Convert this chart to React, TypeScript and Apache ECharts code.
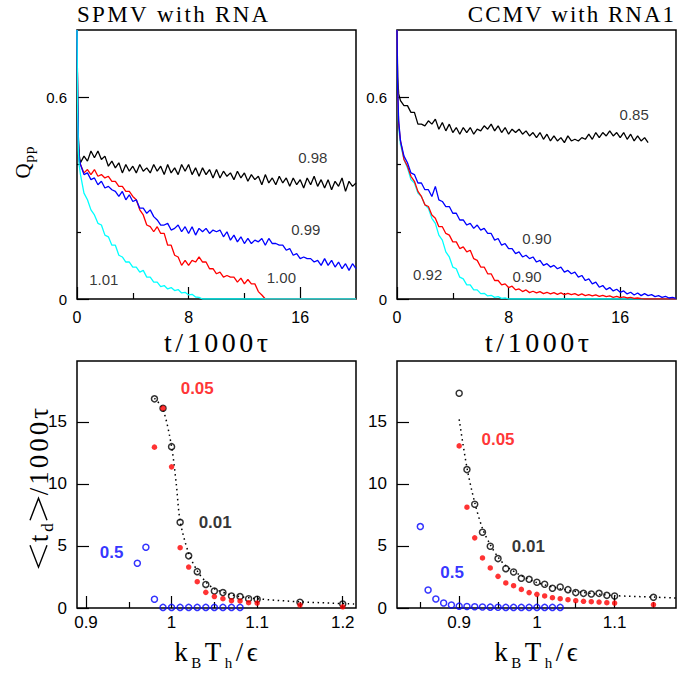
import React, { useEffect, useRef } from "react";
import * as echarts from "echarts";

const FONT_SANS = "'Liberation Sans', Arial, sans-serif";
const FONT_SERIF = "'Liberation Serif', 'DejaVu Serif', serif";

// ---------- top panels: Q_pp vs t/1000tau ----------
const T_STEP = 0.25; // body samples start at t = 0.25
const HEAD_T_SPMV = [0, 0.05, 0.1, 0.15];
const HEAD_T_CCMV = [0, 0.05, 0.12];

// SPMV with RNA
const TL_BLACK_HEAD = [0.8, 0.6, 0.48, 0.43];
const TL_BLACK = [
  0.405, 0.425, 0.41, 0.44, 0.42, 0.44, 0.415, 0.425, 0.395, 0.41,
  0.39, 0.405, 0.375, 0.4, 0.38, 0.395, 0.375, 0.4, 0.38, 0.39,
  0.375, 0.4, 0.38, 0.395, 0.37, 0.4, 0.375, 0.39, 0.37, 0.4,
  0.38, 0.4, 0.37, 0.39, 0.365, 0.39, 0.37, 0.385, 0.36, 0.385,
  0.36, 0.38, 0.365, 0.375, 0.355, 0.38, 0.36, 0.375, 0.35, 0.37,
  0.355, 0.365, 0.34, 0.37, 0.345, 0.36, 0.34, 0.365, 0.345, 0.36,
  0.335, 0.36, 0.34, 0.355, 0.33, 0.36, 0.34, 0.365, 0.335, 0.355,
  0.33, 0.355, 0.325, 0.35, 0.335, 0.36, 0.32, 0.35, 0.335, 0.345,
];
const TL_BLUE_HEAD = [0.8, 0.58, 0.47, 0.42];
const TL_BLUE = [
  0.4, 0.37, 0.375, 0.355, 0.36, 0.34, 0.35, 0.33, 0.335, 0.325,
  0.32, 0.305, 0.32, 0.295, 0.31, 0.29, 0.295, 0.27, 0.27, 0.255,
  0.265, 0.245, 0.235, 0.22, 0.22, 0.225, 0.205, 0.21, 0.22, 0.2,
  0.215, 0.195, 0.215, 0.19, 0.21, 0.2, 0.21, 0.195, 0.205, 0.2,
  0.205, 0.185, 0.2, 0.175, 0.19, 0.17, 0.185, 0.165, 0.18, 0.165,
  0.175, 0.17, 0.18, 0.16, 0.18, 0.165, 0.165, 0.16, 0.16, 0.145,
  0.15, 0.13, 0.135, 0.12, 0.125, 0.12, 0.12, 0.11, 0.115, 0.1,
  0.12, 0.1, 0.115, 0.095, 0.11, 0.09, 0.105, 0.085, 0.105, 0.09,
];
const TL_RED_HEAD = [0.8, 0.57, 0.46, 0.41];
const TL_RED = [
  0.4, 0.375, 0.385, 0.37, 0.385, 0.365, 0.37, 0.36, 0.365, 0.35,
  0.35, 0.335, 0.335, 0.32, 0.32, 0.305, 0.295, 0.265, 0.25, 0.22,
  0.215, 0.2, 0.215, 0.195, 0.195, 0.16, 0.16, 0.13, 0.125, 0.1,
  0.115, 0.1, 0.115, 0.11, 0.125, 0.11, 0.11, 0.09, 0.09, 0.075,
  0.08, 0.065, 0.07, 0.065, 0.065, 0.05, 0.062, 0.045, 0.058, 0.045,
  0.045, 0.022, 0.012, 0,
];
const TL_RED_TAIL = [[20, 0]];
const TL_CYAN_HEAD = [0.8, 0.55, 0.44, 0.4];
const TL_CYAN = [
  0.37, 0.315, 0.295, 0.265, 0.25, 0.225, 0.22, 0.19, 0.185, 0.16,
  0.16, 0.13, 0.125, 0.11, 0.11, 0.095, 0.095, 0.08, 0.085, 0.065,
  0.065, 0.05, 0.05, 0.037, 0.04, 0.03, 0.034, 0.025, 0.028, 0.018,
  0.02, 0.012, 0.014, 0.006, 0.005, 0,
];
const TL_CYAN_TAIL = [[20, 0]];

// CCMV with RNA1
const TR_BLACK_HEAD = [0.8, 0.66, 0.61];
const TR_BLACK = [
  0.59, 0.575, 0.575, 0.555, 0.555, 0.52, 0.52, 0.515, 0.53, 0.52,
  0.535, 0.505, 0.525, 0.5, 0.52, 0.495, 0.51, 0.49, 0.51, 0.495,
  0.51, 0.49, 0.505, 0.5, 0.515, 0.505, 0.52, 0.5, 0.515, 0.495,
  0.51, 0.49, 0.505, 0.495, 0.505, 0.49, 0.5, 0.485, 0.495, 0.48,
  0.495, 0.475, 0.49, 0.47, 0.485, 0.47, 0.48, 0.465, 0.485, 0.47,
  0.475, 0.47, 0.48, 0.475, 0.49, 0.475, 0.495, 0.48, 0.495, 0.485,
  0.5, 0.485, 0.495, 0.48, 0.495, 0.475, 0.49, 0.47, 0.485, 0.47,
  0.48, 0.465,
];
const TR_BLUE_HEAD = [0.8, 0.62, 0.53];
const TR_BLUE = [
  0.47, 0.425, 0.405, 0.375, 0.37, 0.345, 0.345, 0.325, 0.325, 0.305,
  0.335, 0.295, 0.29, 0.275, 0.275, 0.255, 0.255, 0.235, 0.235, 0.22,
  0.225, 0.21, 0.22, 0.205, 0.21, 0.195, 0.195, 0.175, 0.18, 0.16,
  0.165, 0.15, 0.15, 0.135, 0.14, 0.125, 0.13, 0.12, 0.125, 0.11,
  0.115, 0.1, 0.105, 0.095, 0.1, 0.09, 0.095, 0.08, 0.085, 0.075,
  0.08, 0.065, 0.07, 0.055, 0.06, 0.045, 0.05, 0.035, 0.04, 0.028,
  0.034, 0.024, 0.029, 0.02, 0.024, 0.015, 0.02, 0.012, 0.018, 0.01,
  0.016, 0.01, 0.013, 0.007, 0.01, 0.005, 0.008, 0.003, 0.005, 0.002,
];
const TR_RED_HEAD = [0.8, 0.61, 0.52];
const TR_RED = [
  0.47, 0.415, 0.395, 0.365, 0.35, 0.32, 0.305, 0.28, 0.275, 0.25,
  0.24, 0.215, 0.215, 0.195, 0.19, 0.17, 0.17, 0.15, 0.155, 0.14,
  0.145, 0.12, 0.115, 0.095, 0.095, 0.075, 0.075, 0.055, 0.055, 0.042,
  0.045, 0.034, 0.038, 0.027, 0.03, 0.022, 0.027, 0.019, 0.023, 0.018,
  0.022, 0.016, 0.02, 0.015, 0.019, 0.014, 0.018, 0.013, 0.017, 0.013,
  0.016, 0.011, 0.015, 0.01, 0.013, 0.009, 0.012, 0.008, 0.011, 0.007,
  0.009, 0.005, 0.008, 0.004, 0.006, 0.003, 0.005, 0.002, 0.003, 0.001,
  0,
];
const TR_RED_TAIL = [[20, 0]];
const TR_CYAN_HEAD = [0.8, 0.6, 0.51];
const TR_CYAN = [
  0.46, 0.415, 0.39, 0.355, 0.345, 0.315, 0.305, 0.28, 0.27, 0.24,
  0.225, 0.19, 0.175, 0.14, 0.125, 0.095, 0.09, 0.065, 0.06, 0.042,
  0.042, 0.027, 0.027, 0.016, 0.017, 0.009, 0.011, 0.005, 0.007, 0.002,
  0.003, 0,
];
const TR_CYAN_TAIL = [[20, 0]];

// ---------- bottom panels: <t_d>/1000tau vs kBTh/eps ----------
const BL_X = [0.98, 0.99, 1.0, 1.01, 1.02, 1.03, 1.04, 1.05, 1.06, 1.07, 1.08, 1.09, 1.1, 1.15, 1.2];
const BL_BLACK = [16.85, 16.1, 13.0, 6.9, 4.2, 2.93, 1.9, 1.37, 1.24, 0.97, 0.92, 0.75, 0.7, 0.46, 0.32];
const BL_RED = [12.96, 16.1, 11.37, 4.86, 3.3, 2.12, 1.26, 0.92, 0.75, 0.59, 0.57, 0.43, 0.4, 0.24, 0.1];
const BL_BLUE_X = [0.96, 0.97, 0.98, 0.99, 1.0, 1.01, 1.02, 1.03, 1.04, 1.05, 1.06, 1.07, 1.08];
const BL_BLUE = [3.6, 4.9, 0.7, 0.05, 0.05, 0.05, 0.05, 0.05, 0.05, 0.05, 0.05, 0.05, 0.05];
const BL_FIT_X = [0.98, 0.99, 1.0, 1.0055, 1.01, 1.02, 1.03, 1.04, 1.05, 1.07, 1.1, 1.15, 1.2155];
const BL_FIT = [16.9, 16.0, 13.0, 10.0, 7.0, 4.4, 3.0, 2.1, 1.55, 1.05, 0.75, 0.5, 0.32];

const BR_X = [0.9, 0.91, 0.92, 0.93, 0.94, 0.95, 0.96, 0.97, 0.98, 0.99, 1.0, 1.01, 1.02, 1.03, 1.04, 1.05, 1.06, 1.07, 1.08, 1.09, 1.1, 1.15];
const BR_BLACK = [17.3, 11.15, 8.36, 6.1, 4.97, 3.98, 3.17, 2.9, 2.39, 2.31, 2.07, 1.91, 1.59, 1.69, 1.48, 1.24, 1.18, 1.13, 1.18, 1.02, 0.97, 0.86];
const BR_RED = [13.06, 8.12, 5.65, 4.03, 3.23, 2.55, 2.02, 1.8, 1.5, 1.24, 1.1, 0.97, 0.83, 0.75, 0.67, 0.59, 0.54, 0.51, 0.48, 0.43, 0.4, 0.27];
const BR_BLUE_X = [0.85, 0.86, 0.87, 0.88, 0.89, 0.9, 0.91, 0.92, 0.93, 0.94, 0.95, 0.96, 0.97, 0.98, 0.99, 1.0, 1.01, 1.02, 1.03];
const BR_BLUE = [6.56, 1.45, 0.73, 0.4, 0.24, 0.15, 0.12, 0.1, 0.08, 0.07, 0.06, 0.05, 0.05, 0.05, 0.05, 0.05, 0.05, 0.05, 0.05];
const BR_FIT_X = [0.9, 0.91, 0.92, 0.93, 0.94, 0.95, 0.96, 0.98, 1.0, 1.03, 1.06, 1.1, 1.15, 1.179];
const BR_FIT = [15.2, 11.3, 8.5, 6.4, 5.1, 4.1, 3.4, 2.6, 2.05, 1.55, 1.25, 1.0, 0.88, 0.8];

// tick values
const TOP_X_MAJOR = [0, 8, 16];
const TOP_X_MINOR = [4, 12];
const TOP_Y_MAJOR = [0, 0.6];
const TOP_Y_MINOR = [0.2, 0.4];
const BOT_Y_MAJOR = [0, 5, 10, 15];
const BL_X_MAJOR = [0.9, 1, 1.1, 1.2];
const BL_X_MINOR = [0.95, 1.05, 1.15];
const BR_X_MAJOR = [0.9, 1, 1.1];
const BR_X_MINOR = [0.85, 0.95, 1.05, 1.15];

// annotations
const NOTES = [
  { g: 0, text: "0.98", x: 16.9, y: 0.42, color: "#000", bold: false },
  { g: 0, text: "0.99", x: 16.4, y: 0.208, color: "#000", bold: false },
  { g: 0, text: "1.00", x: 14.65, y: 0.065, color: "#000", bold: false },
  { g: 0, text: "1.01", x: 1.92, y: 0.057, color: "#000", bold: false },
  { g: 1, text: "0.85", x: 17.0, y: 0.548, color: "#000", bold: false },
  { g: 1, text: "0.90", x: 10.03, y: 0.179, color: "#000", bold: false },
  { g: 1, text: "0.90", x: 9.32, y: 0.068, color: "#000", bold: false },
  { g: 1, text: "0.92", x: 2.2, y: 0.074, color: "#000", bold: false },
  { g: 2, text: "0.05", x: 1.03, y: 17.66, color: "#ff0000", bold: true },
  { g: 2, text: "0.01", x: 1.051, y: 6.85, color: "#000", bold: true },
  { g: 2, text: "0.5", x: 0.93, y: 4.44, color: "#0000ff", bold: true },
  { g: 3, text: "0.05", x: 0.95, y: 13.55, color: "#ff0000", bold: true },
  { g: 3, text: "0.01", x: 0.989, y: 4.92, color: "#000", bold: true },
  { g: 3, text: "0.5", x: 0.891, y: 2.82, color: "#0000ff", bold: true },
];

function trace(headT: number[], headQ: number[], body: number[], tail: number[][] = []) {
  const pts: number[][] = headT.map((t, i) => [t, headQ[i]]);
  body.forEach((q, i) => pts.push([(i + 1) * T_STEP, q]));
  tail.forEach((p) => pts.push(p));
  return pts;
}
function zip(xs: number[], ys: number[]) {
  return xs.map((x, i) => [x, ys[i]]);
}

// ---- text runs with letter spacing and subscripts (measured with canvas) ----
let measureCtx: CanvasRenderingContext2D | null = null;
function textWidth(s: string, size: number, family: string) {
  if (!measureCtx) measureCtx = document.createElement("canvas").getContext("2d");
  if (!measureCtx) return size * 0.5 * s.length;
  measureCtx.font = `${size}px ${family}`;
  return measureCtx.measureText(s).width;
}
type Seg = { t?: string; size?: number; dy?: number; family?: string; draw?: "lt" | "gt"; w?: number; h?: number };
function textRun(segs: Seg[], spacing: number, anchor: "left" | "center" | "right", x: number, baseline: number, rotation = 0) {
  const items: any[] = [];
  let cx = 0;
  segs.forEach((seg) => {
    if (seg.draw) {
      items.push({ draw: seg.draw, x: cx, w: seg.w || 20, h: seg.h || 16 });
      cx += (seg.w || 20) + spacing;
      return;
    }
    const fam = seg.family || FONT_SERIF;
    for (const ch of Array.from(seg.t || "")) {
      const w = textWidth(ch, seg.size || 20, fam);
      items.push({ ch, x: cx, size: seg.size || 20, dy: seg.dy || 0, family: fam });
      cx += w + spacing;
    }
  });
  const total = cx - spacing;
  const off = anchor === "left" ? 0 : anchor === "center" ? -total / 2 : -total;
  return {
    type: "group",
    x,
    y: baseline,
    rotation,
    silent: true,
    children: items.map((it) => {
      if (it.draw) {
        const x0 = it.x + off;
        const pts =
          it.draw === "lt"
            ? [[x0 + it.w, -it.h], [x0, -it.h / 2], [x0 + it.w, 0]]
            : [[x0, -it.h], [x0 + it.w, -it.h / 2], [x0, 0]];
        return { type: "polyline", shape: { points: pts }, style: { stroke: "#000", lineWidth: 1.4, fill: null } };
      }
      return {
        type: "text",
        x: it.x + off,
        y: it.dy - 0.305 * it.size,
        style: { text: it.ch, fontSize: it.size, fontFamily: it.family, fill: "#000", align: "left", verticalAlign: "middle" },
      };
    }),
  };
}

const GRIDS = [
  { left: 77, top: 30, width: 279, height: 269 },
  { left: 397, top: 30, width: 279, height: 269 },
  { left: 77, top: 361, width: 279, height: 247 },
  { left: 397, top: 361, width: 279, height: 247 },
];

const AXES = [
  { xMin: 0, xMax: 20, xMajor: TOP_X_MAJOR, xMinor: TOP_X_MINOR, yMin: 0, yMax: 0.8, yMajor: TOP_Y_MAJOR, yMinor: TOP_Y_MINOR, xFont: 16, yFont: 15, xMargin: 10 },
  { xMin: 0, xMax: 20, xMajor: TOP_X_MAJOR, xMinor: TOP_X_MINOR, yMin: 0, yMax: 0.8, yMajor: TOP_Y_MAJOR, yMinor: TOP_Y_MINOR, xFont: 16, yFont: 15, xMargin: 10 },
  { xMin: 0.8895, xMax: 1.2155, xMajor: BL_X_MAJOR, xMinor: BL_X_MINOR, yMin: 0, yMax: 19.9, yMajor: BOT_Y_MAJOR, yMinor: [] as number[], xFont: 17, yFont: 17, xMargin: 6 },
  { xMin: 0.82, xMax: 1.179, xMajor: BR_X_MAJOR, xMinor: BR_X_MINOR, yMin: 0, yMax: 19.9, yMajor: BOT_Y_MAJOR, yMinor: [] as number[], xFont: 17, yFont: 17, xMargin: 6 },
];

function buildOption() {
  const xAxis: any[] = [];
  const yAxis: any[] = [];
  AXES.forEach((a, g) => {
    const common = { type: "value", gridIndex: g, axisLine: { show: false }, splitLine: { show: false } };
    xAxis.push({
      ...common, min: a.xMin, max: a.xMax, position: "bottom",
      axisTick: { show: true, inside: true, length: 12, customValues: a.xMajor, lineStyle: { color: "#000", width: 1.2 } },
      axisLabel: { show: true, customValues: a.xMajor, margin: a.xMargin, fontSize: a.xFont, fontFamily: FONT_SANS, color: "#000" },
    });
    xAxis.push({
      ...common, min: a.xMin, max: a.xMax, position: "bottom",
      axisTick: { show: true, inside: true, length: 6, customValues: a.xMinor, lineStyle: { color: "#000", width: 1.2 } },
      axisLabel: { show: false },
    });
    yAxis.push({
      ...common, min: a.yMin, max: a.yMax, position: "left",
      axisTick: { show: true, inside: true, length: 12, customValues: a.yMajor, lineStyle: { color: "#000", width: 1.2 } },
      axisLabel: { show: true, customValues: a.yMajor, margin: 10, fontSize: a.yFont, fontFamily: FONT_SANS, color: "#000" },
    });
    yAxis.push({
      ...common, min: a.yMin, max: a.yMax, position: "left",
      axisTick: { show: a.yMinor.length > 0, inside: true, length: 4, customValues: a.yMinor.length ? a.yMinor : [0], lineStyle: { color: "#000", width: 1.2 } },
      axisLabel: { show: false },
    });
  });

  const line = (g: number, data: number[][], color: string) => ({
    type: "line", xAxisIndex: 2 * g, yAxisIndex: 2 * g, data, showSymbol: false, symbol: "none",
    lineStyle: { color, width: 1.3 }, clip: true, silent: true,
  });
  const openPts = (g: number, data: number[][], color: string) => ({
    type: "scatter", xAxisIndex: 2 * g, yAxisIndex: 2 * g, data, symbol: "circle", symbolSize: 6,
    itemStyle: { color: "rgba(0,0,0,0)", borderColor: color, borderWidth: 1.5 }, silent: true, z: 3,
  });
  const filledPts = (g: number, data: number[][], color: string) => ({
    type: "scatter", xAxisIndex: 2 * g, yAxisIndex: 2 * g, data, symbol: "circle", symbolSize: 5.5,
    itemStyle: { color }, silent: true, z: 4,
  });
  const fit = (g: number, data: number[][]) => ({
    type: "line", xAxisIndex: 2 * g, yAxisIndex: 2 * g, data, showSymbol: false, symbol: "none", smooth: 0.3,
    lineStyle: { color: "#000", width: 1.5, type: [1.5, 3.5] }, clip: true, silent: true, z: 2,
  });

  const series: any[] = [
    line(0, trace(HEAD_T_SPMV, TL_BLACK_HEAD, TL_BLACK), "#000000"),
    line(0, trace(HEAD_T_SPMV, TL_RED_HEAD, TL_RED, TL_RED_TAIL), "#ff0000"),
    line(0, trace(HEAD_T_SPMV, TL_BLUE_HEAD, TL_BLUE), "#0000ff"),
    line(0, trace(HEAD_T_SPMV, TL_CYAN_HEAD, TL_CYAN, TL_CYAN_TAIL), "#00ffff"),
    line(1, trace(HEAD_T_CCMV, TR_BLACK_HEAD, TR_BLACK), "#000000"),
    line(1, trace(HEAD_T_CCMV, TR_CYAN_HEAD, TR_CYAN, TR_CYAN_TAIL), "#00ffff"),
    line(1, trace(HEAD_T_CCMV, TR_RED_HEAD, TR_RED, TR_RED_TAIL), "#ff0000"),
    line(1, trace(HEAD_T_CCMV, TR_BLUE_HEAD, TR_BLUE), "#0000ff"),
    fit(2, zip(BL_FIT_X, BL_FIT)),
    openPts(2, zip(BL_X, BL_BLACK), "#000000"),
    openPts(2, zip(BL_BLUE_X, BL_BLUE), "#0000ff"),
    filledPts(2, zip(BL_X, BL_RED), "#ff0000"),
    fit(3, zip(BR_FIT_X, BR_FIT)),
    openPts(3, zip(BR_X, BR_BLACK), "#000000"),
    openPts(3, zip(BR_BLUE_X, BR_BLUE), "#0000ff"),
    filledPts(3, zip(BR_X, BR_RED), "#ff0000"),
  ];

  NOTES.forEach((n) => {
    series.push({
      type: "scatter", xAxisIndex: 2 * n.g, yAxisIndex: 2 * n.g, symbolSize: 0, silent: true, z: 6,
      data: [{ value: [n.x, n.y], name: n.text }],
      label: {
        show: true, position: "inside", formatter: "{b}", color: n.color,
        fontFamily: FONT_SANS, fontSize: n.bold ? 17 : 15, fontWeight: n.bold ? "bold" : "normal",
      },
    });
  });

  const tName: Seg[] = [{ t: "t/1000τ", size: 28 }];
  const kName: Seg[] = [
    { t: "k", size: 27 }, { t: "B", size: 15, dy: 8 }, { t: "T", size: 27 }, { t: "h", size: 15, dy: 8 }, { t: "/ϵ", size: 27 },
  ];
  const qName: Seg[] = [{ t: "Q", size: 21 }, { t: "pp", size: 15, dy: 5 }];
  const tdName: Seg[] = [
    { draw: "lt", w: 22, h: 17 }, { t: "t", size: 27 }, { t: "d", size: 17, dy: 6 },
    { draw: "gt", w: 22, h: 17 }, { t: "/1000τ", size: 27 },
  ];

  const graphic: any[] = [
    textRun([{ t: "SPMV with RNA", size: 23 }], 2.3, "left", 77, 22),
    textRun([{ t: "CCMV with RNA1", size: 23 }], 2.0, "right", 674, 22),
    textRun(tName, 3.5, "center", 216, 351),
    textRun(tName, 3.5, "center", 537, 351),
    textRun(kName, 3.5, "center", 216, 660),
    textRun(kName, 3.5, "center", 536, 660),
    textRun(qName, 1, "center", 29, 162.5, Math.PI / 2),
    textRun(tdName, 3, "center", 47, 487.5, Math.PI / 2),
  ];

  return {
    animation: false,
    backgroundColor: "#ffffff",
    grid: GRIDS.map((g) => ({ ...g, show: true, borderColor: "#000", borderWidth: 1.5, backgroundColor: "rgba(0,0,0,0)", containLabel: false, outerBoundsMode: "none" })),
    xAxis,
    yAxis,
    series,
    graphic,
  };
}

export default function App() {
  const ref = useRef<HTMLDivElement>(null);
  useEffect(() => {
    if (!ref.current) return;
    const chart = echarts.init(ref.current, null, { renderer: "svg" });
    chart.setOption(buildOption() as any);
    return () => chart.dispose();
  }, []);
  return <div ref={ref} style={{ position: "fixed", left: 0, top: 0, width: 680, height: 677, background: "#fff" }} />;
}
